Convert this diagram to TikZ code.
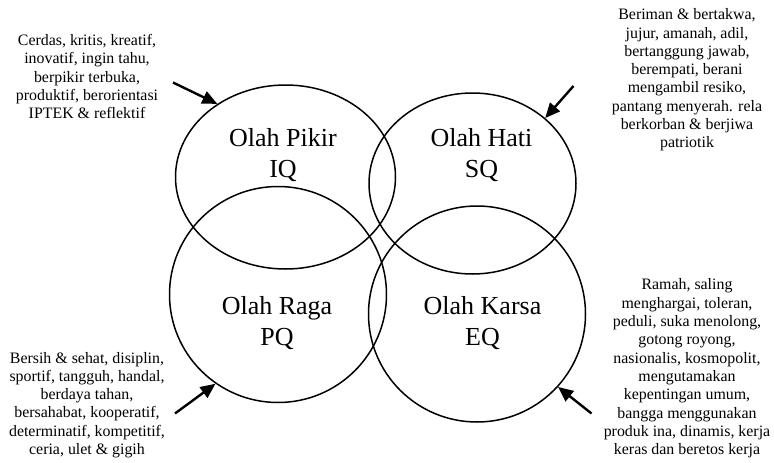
\documentclass[tikz,border=0pt]{standalone}
\usepackage{fontspec}
\setmainfont{Liberation Serif}
\usetikzlibrary{shapes.geometric,arrows.meta}

\begin{document}
\begin{tikzpicture}[x=1pt,y=-1pt,
  ring/.style={draw=black,line width=1.5pt,ellipse,inner sep=0pt},
  title/.style={align=center,font=\fontsize{26}{31.5}\selectfont,inner sep=0pt},
  traits/.style={align=center,font=\fontsize{15.9}{18.3}\selectfont,inner sep=0pt},
  pointer/.style={line width=2.4pt,-{Triangle[length=15pt,width=13pt]}}]

  \useasboundingbox (0,0) rectangle (774,463);

  % the four overlapping domains
  \node[ring,minimum width=220pt,minimum height=184pt] (iq) at (285.5,177) {};
  \node[ring,minimum width=207pt,minimum height=181pt] (sq) at (472.5,183.5) {};
  \node[ring,minimum width=217pt,minimum height=216pt] (pq) at (278,294.5) {};
  \node[ring,minimum width=217pt,minimum height=216pt] (eq) at (477,314) {};

  % domain titles
  \node[title] (tiq) at (283,155) {Olah Pikir\\IQ};
  \node[title] (tsq) at (481.5,155) {Olah Hati\\SQ};
  \node[title] (tpq) at (277,323) {Olah Raga\\PQ};
  \node[title] (teq) at (482.5,323) {Olah Karsa\\EQ};

  % character traits of each domain
  \node[traits] (liq) at (87,76.5) {Cerdas, kritis, kreatif,\\inovatif, ingin tahu,\\berpikir terbuka,\\produktif, berorientasi\\IPTEK \& reflektif};
  \node[traits] (lsq) at (687,80) {Beriman \& bertakwa,\\jujur, amanah, adil,\\bertanggung jawab,\\berempati, berani\\mengambil resiko,\\pantang menyerah. rela\\berkorban \& berjiwa\\patriotik};
  \node[traits] (lpq) at (87,405) {Bersih \& sehat, disiplin,\\sportif, tangguh, handal,\\berdaya tahan,\\bersahabat, kooperatif,\\determinatif, kompetitif,\\ceria, ulet \& gigih};
  \node[traits] (leq) at (687,368.5) {Ramah, saling\\menghargai, toleran,\\peduli, suka menolong,\\gotong royong,\\nasionalis, kosmopolit,\\mengutamakan\\kepentingan umum,\\bangga menggunakan\\produk ina, dinamis, kerja\\keras dan beretos kerja};

  % arrow tails
  \coordinate (aiq) at (173,82.5);
  \coordinate (asq) at (573.5,86);
  \coordinate (apq) at (175,413.5);
  \coordinate (aeq) at (591.5,413.5);

  \draw[pointer] (aiq) -- (iq.133.5);
  \draw[pointer] (asq) -- (sq.42.8);
  \draw[pointer] (apq) -- (pq.235);
  \draw[pointer] (aeq) -- (eq.-42.3);
\end{tikzpicture}
\end{document}
